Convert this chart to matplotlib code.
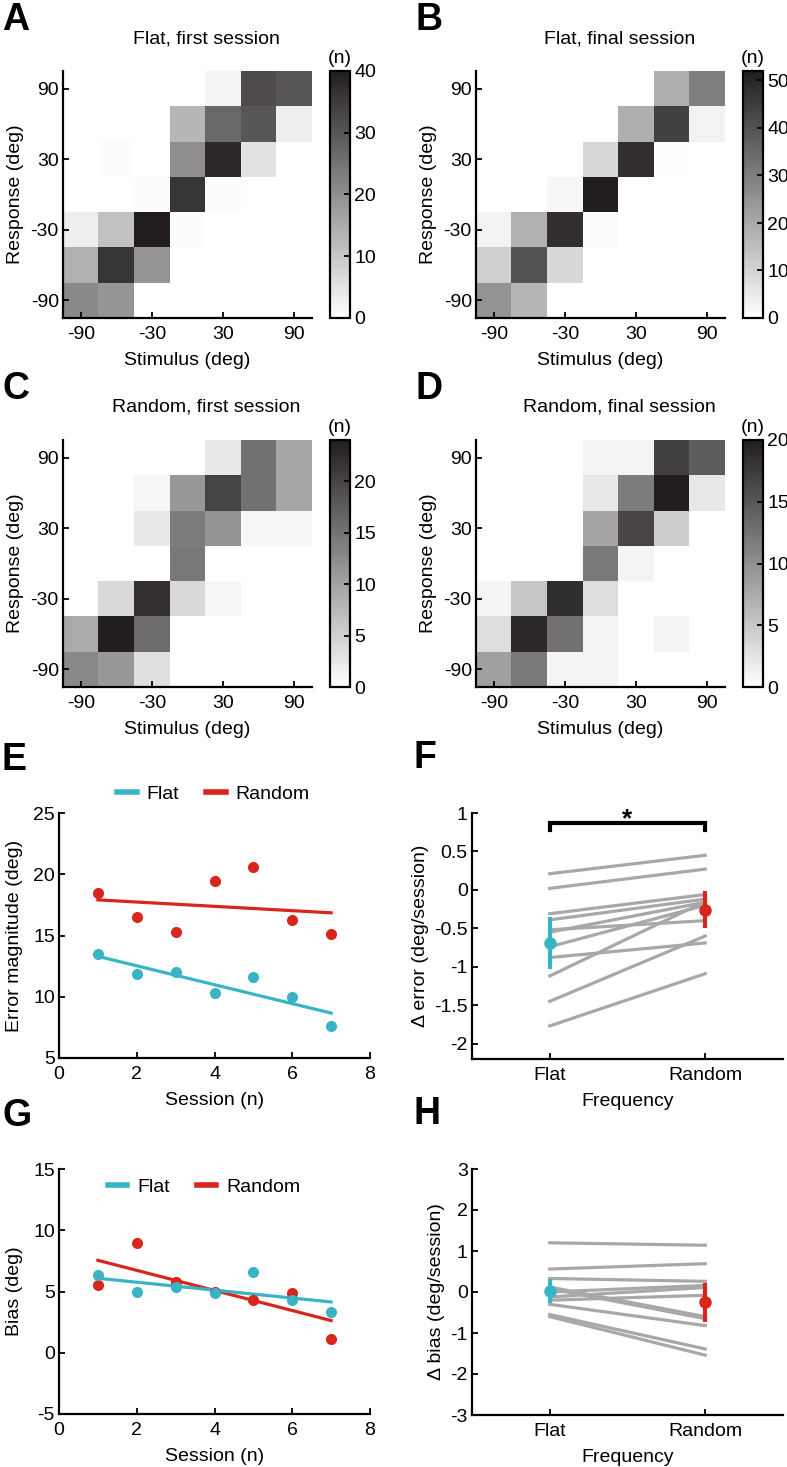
import numpy as np
import matplotlib
matplotlib.use('Agg')
import matplotlib.pyplot as plt
from matplotlib.colors import LinearSegmentedColormap
from matplotlib.lines import Line2D

plt.rcParams['font.family'] = ['Liberation Sans', 'DejaVu Sans']
plt.rcParams['axes.unicode_minus'] = False
plt.rcParams['font.size'] = 14

# ---- data ----
stim_ticks = [-90, -30, 30, 90]

# rows: response 90 (top) -> -90 (bottom); columns: stimulus -90 -> 90
flat_first = [
    [0, 0, 0, 0, 2, 32, 30],
    [0, 0, 0, 13, 27, 30, 3],
    [0, 0.5, 0, 20, 38, 5, 0],
    [0, 0, 0.5, 36, 0.5, 0, 0],
    [3, 11, 40, 0.5, 0, 0, 0],
    [14, 36, 19, 0, 0, 0, 0],
    [21, 19, 0, 0, 0, 0, 0]]
flat_final = [
    [0, 0, 0, 0, 0, 18.5, 30],
    [0, 0, 0, 0, 18.5, 44, 3],
    [0, 0, 0, 9, 48, 0.5, 0],
    [0, 0, 2, 52, 0, 0, 0],
    [3, 18, 48, 1, 0, 0, 0],
    [11, 40, 9, 0, 0, 0, 0],
    [25, 17, 0, 0, 0, 0, 0]]
random_first = [
    [0, 0, 0, 0, 2.5, 15, 9.4],
    [0, 0, 1, 11, 20, 15, 9.4],
    [0, 0, 2.5, 14, 11.5, 1, 1],
    [0, 0, 0, 14.5, 0, 0, 0],
    [0, 4, 22, 4, 1, 0, 0],
    [9, 24, 15.7, 0, 0, 0, 0],
    [12.7, 11, 3.3, 0, 0, 0, 0]]
random_final = [
    [0, 0, 0, 1, 1, 17, 14.5],
    [0, 0, 0, 2, 11.7, 20, 2],
    [0, 0, 0, 8, 16.5, 4.4, 0],
    [0, 0, 0, 12, 1, 0, 0],
    [1, 5, 18.6, 3, 0, 0, 0],
    [3, 19, 12.6, 1, 0, 1, 0],
    [8.5, 12, 1, 1, 0, 0, 0]]

sessions = [1, 2, 3, 4, 5, 6, 7]
err_flat = [13.47, 11.87, 12.0, 10.29, 11.6, 10.01, 7.64]
err_random = [18.46, 16.47, 15.25, 19.44, 20.6, 16.28, 15.16]
bias_flat = [6.36, 4.95, 5.33, 4.86, 6.63, 4.32, 3.34]
bias_random = [5.54, 9.0, 5.76, 5.0, 4.32, 4.86, 1.13]

# per-subject slopes (flat, random)
derr_flat = [0.21, 0.02, -0.31, -0.39, -0.52, -0.55, -0.74, -0.88, -1.12, -1.45, -1.77]
derr_random = [0.45, 0.27, -0.06, -0.12, -0.40, -0.16, -0.20, -0.69, -0.15, -0.60, -1.09]
derr_mean = [-0.69, -0.26]
derr_ci = [0.34, 0.24]

dbias_flat = [1.2, 0.56, 0.33, 0.12, 0.08, 0.0, -0.12, -0.2, -0.3, -0.55, -0.6]
dbias_random = [1.14, 0.69, 0.26, -0.6, -0.65, 0.16, 0.11, -0.08, -0.82, -1.39, -1.54]
dbias_mean = [0.02, -0.25]
dbias_ci = [0.29, 0.47]

CYAN = '#38b4c6'
RED = '#d9261c'
GRAY = '#a8a8a8'
DARK = '#221e1e'

W, H = 787, 1467
fig = plt.figure(figsize=(W / 100, H / 100), dpi=100)


def px_axes(l, t, r, b):
    return fig.add_axes([l / W, 1 - b / H, (r - l) / W, (b - t) / H])


def style(ax):
    for s in ['top', 'right']:
        ax.spines[s].set_visible(False)
    for s in ['left', 'bottom']:
        ax.spines[s].set_linewidth(1.6)
    ax.tick_params(direction='in', length=4, width=1.3, labelsize=14)


cmap = LinearSegmentedColormap.from_list('wk', ['#ffffff', DARK])

heat = [
    (flat_first, 40, [0, 10, 20, 30, 40], 'Flat, first session', 'A', 63, 71),
    (flat_final, 52, [0, 10, 20, 30, 40, 50], 'Flat, final session', 'B', 476, 71),
    (random_first, 24, [0, 5, 10, 15, 20], 'Random, first session', 'C', 63, 440),
    (random_final, 20, [0, 5, 10, 15, 20], 'Random, final session', 'D', 476, 440),
]
for data, vmax, cticks, title, letter, l, t in heat:
    ax = px_axes(l, t, l + 249, t + 247)
    im = ax.imshow(np.array(data), cmap=cmap, vmin=0, vmax=vmax,
                   extent=(-105, 105, -105, 105), origin='upper',
                   aspect='auto', interpolation='nearest')
    style(ax)
    ax.set_xticks(stim_ticks)
    ax.set_yticks(stim_ticks)
    ax.tick_params(axis='x', pad=6)
    ax.tick_params(axis='y', pad=3)
    ax.set_xlabel('Stimulus (deg)', fontsize=14, labelpad=6)
    ax.set_ylabel('Response (deg)', fontsize=14, labelpad=5)
    cax = px_axes(l + 267, t, l + 287, t + 247)
    cb = fig.colorbar(im, cax=cax, ticks=cticks)
    cb.outline.set_linewidth(1.6)
    cax.tick_params(direction='in', length=4, width=1.3, labelsize=14, pad=3)
    fig.text((l + 277) / W, 1 - (t - 8) / H, '(n)', ha='center', va='baseline', fontsize=14)
    fig.text((l + (l + 287)) / 2 / W, 1 - (t - 28) / H, title, ha='center',
             va='baseline', fontsize=14)
    fig.text((l - 61) / W, 1 - (t - 41) / H, letter, ha='left', va='baseline',
             fontsize=27, fontweight='bold')


def session_panel(l, t, flat, rand, ylim, yticks, ylabel, letter, legend_xy):
    ax = px_axes(l, t, l + 311, t + 245)
    for vals, c in [(rand, RED), (flat, CYAN)]:
        ax.plot(sessions, vals, 'o', color=c, markersize=8, markeredgewidth=0, zorder=3)
        k, b0 = np.polyfit(sessions, vals, 1)
        xs = np.array([sessions[0], sessions[-1]])
        ax.plot(xs, k * xs + b0, color=c, lw=2.3, zorder=2)
    ax.set_xlim(0, 8)
    ax.set_ylim(*ylim)
    ax.set_xticks([0, 2, 4, 6, 8])
    ax.set_yticks(yticks)
    style(ax)
    ax.tick_params(axis='x', pad=6)
    ax.tick_params(axis='y', pad=3)
    ax.set_xlabel('Session (n)', fontsize=14, labelpad=6)
    ax.set_ylabel(ylabel, fontsize=14, labelpad=7)
    handles = [Line2D([], [], color=CYAN, lw=4), Line2D([], [], color=RED, lw=4)]
    ax.legend(handles, ['Flat', 'Random'], ncol=2, frameon=False, loc='center',
              bbox_to_anchor=legend_xy, fontsize=14, handlelength=1.0,
              handletextpad=0.5, columnspacing=1.4)
    fig.text((l - 57) / W, 1 - (t - 43) / H, letter, ha='left', va='baseline',
             fontsize=27, fontweight='bold')
    return ax


session_panel(59, 813, err_flat, err_random, (5, 25), [5, 10, 15, 20, 25],
              'Error magnitude (deg)', 'E', (0.497, 1.078))
session_panel(59, 1169, bias_flat, bias_random, (-5, 15), [-5, 0, 5, 10, 15],
              'Bias (deg)', 'G', (0.466, 0.927))


def slope_panel(l, t, fl, rd, means, ci, ylim, yticks, ylabel, letter):
    ax = px_axes(l, t, l + 311, t + 246)
    for a, b in zip(fl, rd):
        ax.plot([1, 2], [a, b], color=GRAY, lw=2.3, zorder=1)
    for x, m, e, c in zip([1, 2], means, ci, [CYAN, RED]):
        ax.plot([x, x], [m - e, m + e], color=c, lw=3, zorder=3, solid_capstyle='butt')
        ax.plot(x, m, 'o', color=c, markersize=9, markeredgewidth=0, zorder=4)
    ax.set_xlim(0.5, 2.5)
    ax.set_ylim(*ylim)
    ax.set_xticks([1, 2])
    ax.set_xticklabels(['Flat', 'Random'])
    ax.set_yticks(yticks)
    ax.set_yticklabels(['%g' % v for v in yticks])
    style(ax)
    ax.tick_params(axis='x', pad=6)
    ax.tick_params(axis='y', pad=3)
    ax.set_xlabel('Frequency', fontsize=14, labelpad=6)
    ax.set_ylabel(ylabel, fontsize=14, labelpad=4)
    fig.text((l - 59) / W, 1 - (t - 45) / H, letter, ha='left', va='baseline',
             fontsize=27, fontweight='bold')
    return ax


axF = slope_panel(472, 813, derr_flat, derr_random, derr_mean, derr_ci, (-2.2, 1),
                  [-2, -1.5, -1, -0.5, 0, 0.5, 1], '\u0394 error (deg/session)', 'F')
axF.plot([1, 1, 2, 2], [0.78, 0.87, 0.87, 0.78], color='black', lw=3,
         solid_joinstyle='miter', clip_on=False)
axF.text(1.5, 0.83, '*', ha='center', va='baseline', fontsize=19, fontweight='bold')

slope_panel(472, 1169, dbias_flat, dbias_random, dbias_mean, dbias_ci, (-3, 3),
            [-3, -2, -1, 0, 1, 2, 3], '\u0394 bias (deg/session)', 'H')

fig.savefig('out.png', dpi=100)
